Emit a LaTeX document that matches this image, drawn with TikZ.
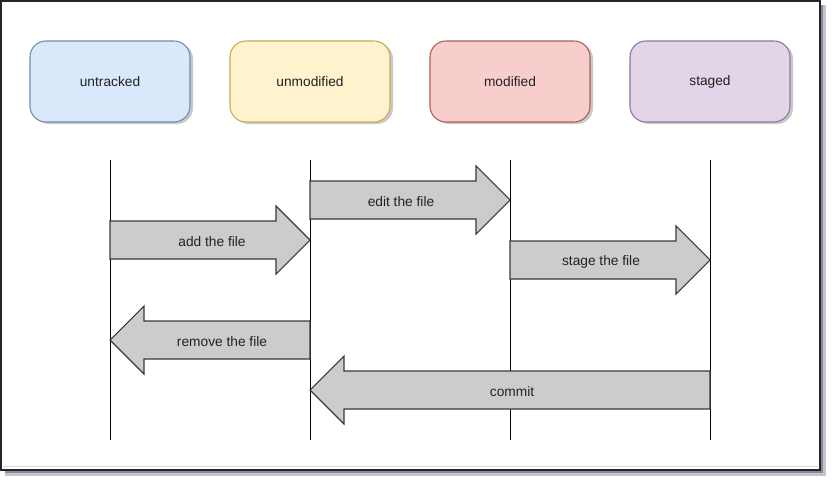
\documentclass[tikz,border=0pt]{standalone}
\usepackage{fontspec}
\setmainfont{Liberation Sans}
\usetikzlibrary{calc}
\definecolor{bluef}{HTML}{DAE8FC}\definecolor{blued}{HTML}{6C8EBF}
\definecolor{yelf}{HTML}{FFF2CC}\definecolor{yeld}{HTML}{D6B656}
\definecolor{redf}{HTML}{F8CECC}\definecolor{redd}{HTML}{B85450}
\definecolor{purf}{HTML}{E1D5E7}\definecolor{purd}{HTML}{9673A6}
\definecolor{arrf}{HTML}{CCCCCC}\definecolor{arrd}{HTML}{36393D}
\definecolor{txt}{HTML}{222222}
\definecolor{frshadow}{HTML}{8A8A9A}
\tikzset{
  statebox/.style={draw, rounded corners=12, minimum width=120pt, minimum height=60.75pt,
    line width=0.8pt, text=txt, font=\fontsize{10.3}{12}\selectfont},
  boxshadow/.style={fill=black!35, opacity=0.6, rounded corners=12},
  arrowbox/.style={draw=arrd, fill=arrf, line width=0.8pt, line join=miter},
  lbl/.style={text=txt, font=\fontsize{10.3}{12}\selectfont, inner sep=0pt},
  lifeline/.style={draw=black, line width=0.75pt},
}
\newcommand\fatarrow[6]{% tail x, tip x, centre y, name, label x, label
  \pgfmathsetmacro\adir{(#2>#1)?1:-1}
  \pgfmathsetmacro\hx{#2-\adir*34}
  \draw[arrowbox] (#1,#3-19) -- (\hx,#3-19) -- (\hx,#3-34) -- (#2,#3) -- (\hx,#3+34) -- (\hx,#3+19) -- (#1,#3+19) -- cycle;
  \node[lbl] (#4) at (#5,#3+1.5) {#6};
}
\begin{document}
\begin{tikzpicture}[x=0.75pt,y=-0.75pt]
\useasboundingbox (0,0) rectangle (834,485);
% frame with shadow
\fill[frshadow!50] (5,5) rectangle (826,476);
\fill[frshadow] (5,5) rectangle (823,473);
\draw[fill=white, line width=0.9pt, draw=black!85] (1,1) rectangle (820,470);
\draw[black!15, line width=0.6pt] (3,466) -- (818,466);
% state boxes
\foreach \x in {30,230,430,630} { \fill[boxshadow] (\x+3,43) rectangle (\x+163,124); }
\node[statebox, fill=bluef, draw=blued!80!gray] (untracked) at (110,81.5) {untracked};
\node[statebox, fill=yelf, draw=yeld!80!gray] (unmodified) at (310,81.5) {unmodified};
\node[statebox, fill=redf, draw=redd!80!gray] (modified) at (510,81.5) {modified};
\node[statebox, fill=purf, draw=purd!80!gray] (staged) at (710,81.5) {staged};
% lifelines
\foreach \n/\x in {a/110,b/310,c/510,d/710} {
  \coordinate (\n top) at (\x,160);
  \coordinate (\n bot) at (\x,440);
}
\draw[lifeline] (atop) -- (abot);
\draw[lifeline] (btop) -- (bbot);
\draw[lifeline] (ctop) -- (cbot);
\draw[lifeline] (dtop) -- (dbot);
% arrows
\fatarrow{310}{510}{200}{edit}{401}{edit the file}
\fatarrow{110}{310}{240}{add}{212}{add the file}
\fatarrow{510}{710}{260}{stage}{601}{stage the file}
\fatarrow{310}{110}{340}{remove}{222}{remove the file}
\fatarrow{710}{310}{390}{commit}{512}{commit}
\end{tikzpicture}
\end{document}
